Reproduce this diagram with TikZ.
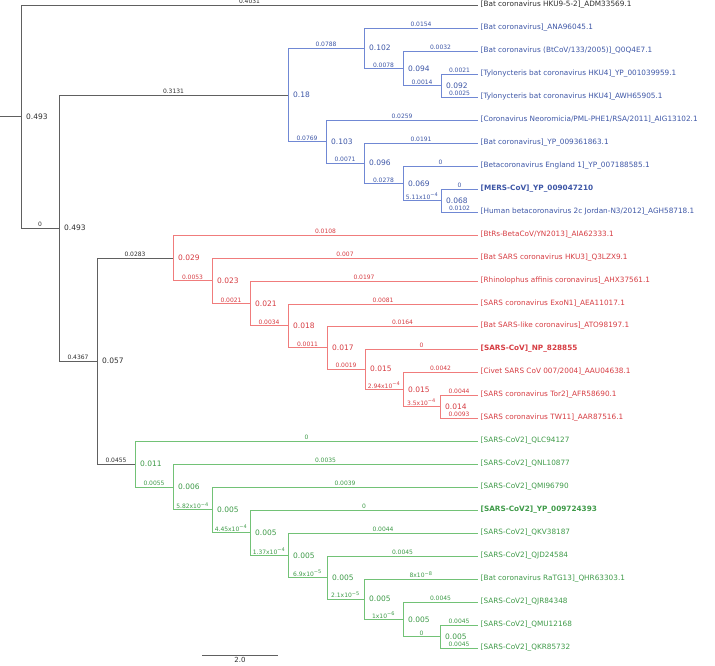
\documentclass[tikz,border=0pt]{standalone}
\usepackage{fontspec}
\setmainfont{DejaVu Sans}
\definecolor{treeline}{HTML}{606060}
\definecolor{treetext}{HTML}{2E2E2E}
\definecolor{mersline}{HTML}{7088D4}
\definecolor{merstext}{HTML}{3D56A6}
\definecolor{sarsline}{HTML}{F07C7C}
\definecolor{sarstext}{HTML}{D63C42}
\definecolor{covline}{HTML}{72C276}
\definecolor{covtext}{HTML}{3E9A48}
\tikzset{
    edge/.style={line width=0.8pt},
    leaf/.style={anchor=west, inner sep=2.5pt, font=\fontsize{7.3}{8}\selectfont},
    val/.style={anchor=west, inner sep=0pt, xshift=5pt, font=\fontsize{7.5}{9}\selectfont},
    blen/.style={anchor=south, inner sep=0.8pt, pos=0.75, font=\fontsize{6}{7}\selectfont},
}

\begin{document}
\begin{tikzpicture}[x=1pt, y=-1pt]
    \useasboundingbox (0,0) rectangle (715,665);
    % leaves
    \node[leaf, text=treetext] (t1) at (478,5) {[Bat coronavirus HKU9-5-2]\_ADM33569.1};
    \node[leaf, text=merstext] (t2) at (478,28) {[Bat coronavirus]\_ANA96045.1};
    \node[leaf, text=merstext] (t3) at (478,51) {[Bat coronavirus (BtCoV/133/2005)]\_Q0Q4E7.1};
    \node[leaf, text=merstext] (t4) at (478,74) {[Tylonycteris bat coronavirus HKU4]\_YP\_001039959.1};
    \node[leaf, text=merstext] (t5) at (478,97) {[Tylonycteris bat coronavirus HKU4]\_AWH65905.1};
    \node[leaf, text=merstext] (t6) at (478,120) {[Coronavirus Neoromicia/PML-PHE1/RSA/2011]\_AIG13102.1};
    \node[leaf, text=merstext] (t7) at (478,143) {[Bat coronavirus]\_YP\_009361863.1};
    \node[leaf, text=merstext] (t8) at (478,166) {[Betacoronavirus England 1]\_YP\_007188585.1};
    \node[leaf, text=merstext, font=\fontsize{7.3}{8}\selectfont\bfseries] (t9) at (478,189) {[MERS-CoV]\_YP\_009047210};
    \node[leaf, text=merstext] (t10) at (478,212) {[Human betacoronavirus 2c Jordan-N3/2012]\_AGH58718.1};
    \node[leaf, text=sarstext] (t11) at (478,235) {[BtRs-BetaCoV/YN2013]\_AIA62333.1};
    \node[leaf, text=sarstext] (t12) at (478,258) {[Bat SARS coronavirus HKU3]\_Q3LZX9.1};
    \node[leaf, text=sarstext] (t13) at (478,281) {[Rhinolophus affinis coronavirus]\_AHX37561.1};
    \node[leaf, text=sarstext] (t14) at (478,304) {[SARS coronavirus ExoN1]\_AEA11017.1};
    \node[leaf, text=sarstext] (t15) at (478,326) {[Bat SARS-like coronavirus]\_ATO98197.1};
    \node[leaf, text=sarstext, font=\fontsize{7.3}{8}\selectfont\bfseries] (t16) at (478,349) {[SARS-CoV]\_NP\_828855};
    \node[leaf, text=sarstext] (t17) at (478,372) {[Civet SARS CoV 007/2004]\_AAU04638.1};
    \node[leaf, text=sarstext] (t18) at (478,395) {[SARS coronavirus Tor2]\_AFR58690.1};
    \node[leaf, text=sarstext] (t19) at (478,418) {[SARS coronavirus TW11]\_AAR87516.1};
    \node[leaf, text=covtext] (t20) at (478,441) {[SARS-CoV2]\_QLC94127};
    \node[leaf, text=covtext] (t21) at (478,464) {[SARS-CoV2]\_QNL10877};
    \node[leaf, text=covtext] (t22) at (478,487) {[SARS-CoV2]\_QMI96790};
    \node[leaf, text=covtext, font=\fontsize{7.3}{8}\selectfont\bfseries] (t23) at (478,510) {[SARS-CoV2]\_YP\_009724393};
    \node[leaf, text=covtext] (t24) at (478,533) {[SARS-CoV2]\_QKV38187};
    \node[leaf, text=covtext] (t25) at (478,556) {[SARS-CoV2]\_QJD24584};
    \node[leaf, text=covtext] (t26) at (478,579) {[Bat coronavirus RaTG13]\_QHR63303.1};
    \node[leaf, text=covtext] (t27) at (478,602) {[SARS-CoV2]\_QJR84348};
    \node[leaf, text=covtext] (t28) at (478,625) {[SARS-CoV2]\_QMU12168};
    \node[leaf, text=covtext] (t29) at (478,648) {[SARS-CoV2]\_QKR85732};

    % inner nodes
    \coordinate (stub) at (0,116.5);
    \coordinate (root) at (21,116.5);
    \coordinate (top) at (59,227.9);
    \coordinate (grp) at (97,361);
    \coordinate (mers1) at (288,94.9);
    \coordinate (mers2) at (364,48.1);
    \coordinate (mers3) at (403,68.3);
    \coordinate (mers4) at (441,85.5);
    \coordinate (mers5) at (326,141.6);
    \coordinate (mers6) at (364,163.1);
    \coordinate (mers7) at (403,183.3);
    \coordinate (mers8) at (441,200.5);
    \coordinate (sars1) at (173,257.9);
    \coordinate (sars2) at (212,280.7);
    \coordinate (sars3) at (250,303.4);
    \coordinate (sars4) at (288,325.8);
    \coordinate (sars5) at (327,347.6);
    \coordinate (sars6) at (365,369.1);
    \coordinate (sars7) at (403,389.3);
    \coordinate (sars8) at (440,406.5);
    \coordinate (cov1) at (135,464);
    \coordinate (cov2) at (173,486.9);
    \coordinate (cov3) at (212,509.8);
    \coordinate (cov4) at (250,532.6);
    \coordinate (cov5) at (288,555.3);
    \coordinate (cov6) at (327,577.6);
    \coordinate (cov7) at (364,599.1);
    \coordinate (cov8) at (403,619.3);
    \coordinate (cov9) at (440,636.5);

    % backbone
    \draw[edge, treeline] (stub) -- (root);
    \draw[edge, treeline] (root) |- node[blen, text=treetext] {0.4031} (t1.west);
    \draw[edge, treeline] (root) |- node[blen, text=treetext] {0} (top);
    \draw[edge, treeline] (top) |- node[blen, text=treetext] {0.3131} (mers1);
    \draw[edge, treeline] (top) |- node[blen, text=treetext] {0.4367} (grp);
    \draw[edge, treeline] (grp) |- node[blen, text=treetext] {0.0283} (sars1);
    \draw[edge, treeline] (grp) |- node[blen, text=treetext] {0.0455} (cov1);
    \node[val, text=treetext] (vroot) at (root) {0.493};
    \node[val, text=treetext] (vtop) at (top) {0.493};
    \node[val, text=treetext] (vgrp) at (grp) {0.057};

    % mers clade
    \begin{scope}[mersline]
    \draw[edge] (mers1) |- node[blen, text=merstext] {0.0788} (mers2);
    \draw[edge] (mers1) |- node[blen, text=merstext] {0.0769} (mers5);
    \draw[edge] (mers2) |- node[blen, text=merstext] {0.0154} (t2.west);
    \draw[edge] (mers2) |- node[blen, text=merstext] {0.0078} (mers3);
    \draw[edge] (mers3) |- node[blen, text=merstext] {0.0032} (t3.west);
    \draw[edge] (mers3) |- node[blen, text=merstext] {0.0014} (mers4);
    \draw[edge] (mers4) |- node[blen, text=merstext] {0.0021} (t4.west);
    \draw[edge] (mers4) |- node[blen, text=merstext] {0.0025} (t5.west);
    \draw[edge] (mers5) |- node[blen, text=merstext] {0.0259} (t6.west);
    \draw[edge] (mers5) |- node[blen, text=merstext] {0.0071} (mers6);
    \draw[edge] (mers6) |- node[blen, text=merstext] {0.0191} (t7.west);
    \draw[edge] (mers6) |- node[blen, text=merstext] {0.0278} (mers7);
    \draw[edge] (mers7) |- node[blen, text=merstext] {0} (t8.west);
    \draw[edge] (mers7) |- node[blen, text=merstext] {5.11x10\textsuperscript{−4}} (mers8);
    \draw[edge] (mers8) |- node[blen, text=merstext] {0} (t9.west);
    \draw[edge] (mers8) |- node[blen, text=merstext] {0.0102} (t10.west);
    \end{scope}
    \node[val, text=merstext] (vm1) at (mers1) {0.18};
    \node[val, text=merstext] (vm2) at (mers2) {0.102};
    \node[val, text=merstext] (vm3) at (mers3) {0.094};
    \node[val, text=merstext] (vm4) at (mers4) {0.092};
    \node[val, text=merstext] (vm5) at (mers5) {0.103};
    \node[val, text=merstext] (vm6) at (mers6) {0.096};
    \node[val, text=merstext] (vm7) at (mers7) {0.069};
    \node[val, text=merstext] (vm8) at (mers8) {0.068};

    % sars clade
    \begin{scope}[sarsline]
    \draw[edge] (sars1) |- node[blen, text=sarstext] {0.0108} (t11.west);
    \draw[edge] (sars1) |- node[blen, text=sarstext] {0.0053} (sars2);
    \draw[edge] (sars2) |- node[blen, text=sarstext] {0.007} (t12.west);
    \draw[edge] (sars2) |- node[blen, text=sarstext] {0.0021} (sars3);
    \draw[edge] (sars3) |- node[blen, text=sarstext] {0.0197} (t13.west);
    \draw[edge] (sars3) |- node[blen, text=sarstext] {0.0034} (sars4);
    \draw[edge] (sars4) |- node[blen, text=sarstext] {0.0081} (t14.west);
    \draw[edge] (sars4) |- node[blen, text=sarstext] {0.0011} (sars5);
    \draw[edge] (sars5) |- node[blen, text=sarstext] {0.0164} (t15.west);
    \draw[edge] (sars5) |- node[blen, text=sarstext] {0.0019} (sars6);
    \draw[edge] (sars6) |- node[blen, text=sarstext] {0} (t16.west);
    \draw[edge] (sars6) |- node[blen, text=sarstext] {2.94x10\textsuperscript{−4}} (sars7);
    \draw[edge] (sars7) |- node[blen, text=sarstext] {0.0042} (t17.west);
    \draw[edge] (sars7) |- node[blen, text=sarstext] {3.5x10\textsuperscript{−4}} (sars8);
    \draw[edge] (sars8) |- node[blen, text=sarstext] {0.0044} (t18.west);
    \draw[edge] (sars8) |- node[blen, text=sarstext] {0.0093} (t19.west);
    \end{scope}
    \node[val, text=sarstext] (vs1) at (sars1) {0.029};
    \node[val, text=sarstext] (vs2) at (sars2) {0.023};
    \node[val, text=sarstext] (vs3) at (sars3) {0.021};
    \node[val, text=sarstext] (vs4) at (sars4) {0.018};
    \node[val, text=sarstext] (vs5) at (sars5) {0.017};
    \node[val, text=sarstext] (vs6) at (sars6) {0.015};
    \node[val, text=sarstext] (vs7) at (sars7) {0.015};
    \node[val, text=sarstext] (vs8) at (sars8) {0.014};

    % sars-cov2 clade
    \begin{scope}[covline]
    \draw[edge] (cov1) |- node[blen, text=covtext] {0} (t20.west);
    \draw[edge] (cov1) |- node[blen, text=covtext] {0.0055} (cov2);
    \draw[edge] (cov2) |- node[blen, text=covtext] {0.0035} (t21.west);
    \draw[edge] (cov2) |- node[blen, text=covtext] {5.82x10\textsuperscript{−4}} (cov3);
    \draw[edge] (cov3) |- node[blen, text=covtext] {0.0039} (t22.west);
    \draw[edge] (cov3) |- node[blen, text=covtext] {4.45x10\textsuperscript{−4}} (cov4);
    \draw[edge] (cov4) |- node[blen, text=covtext] {0} (t23.west);
    \draw[edge] (cov4) |- node[blen, text=covtext] {1.37x10\textsuperscript{−4}} (cov5);
    \draw[edge] (cov5) |- node[blen, text=covtext] {0.0044} (t24.west);
    \draw[edge] (cov5) |- node[blen, text=covtext] {6.9x10\textsuperscript{−5}} (cov6);
    \draw[edge] (cov6) |- node[blen, text=covtext] {0.0045} (t25.west);
    \draw[edge] (cov6) |- node[blen, text=covtext] {2.1x10\textsuperscript{−5}} (cov7);
    \draw[edge] (cov7) |- node[blen, text=covtext] {8x10\textsuperscript{−8}} (t26.west);
    \draw[edge] (cov7) |- node[blen, text=covtext] {1x10\textsuperscript{−6}} (cov8);
    \draw[edge] (cov8) |- node[blen, text=covtext] {0.0045} (t27.west);
    \draw[edge] (cov8) |- node[blen, text=covtext] {0} (cov9);
    \draw[edge] (cov9) |- node[blen, text=covtext] {0.0045} (t28.west);
    \draw[edge] (cov9) |- node[blen, text=covtext] {0.0045} (t29.west);
    \end{scope}
    \node[val, text=covtext] (vc1) at (cov1) {0.011};
    \node[val, text=covtext] (vc2) at (cov2) {0.006};
    \node[val, text=covtext] (vc3) at (cov3) {0.005};
    \node[val, text=covtext] (vc4) at (cov4) {0.005};
    \node[val, text=covtext] (vc5) at (cov5) {0.005};
    \node[val, text=covtext] (vc6) at (cov6) {0.005};
    \node[val, text=covtext] (vc7) at (cov7) {0.005};
    \node[val, text=covtext] (vc8) at (cov8) {0.005};
    \node[val, text=covtext] (vc9) at (cov9) {0.005};

    % scale bar
    \coordinate (bar1) at (202,655);
    \coordinate (bar2) at (278,655);
    \draw[edge, treeline] (bar1) -- node[below, inner sep=1.5pt, text=treetext, font=\fontsize{7}{8}\selectfont] (barlab) {2.0} (bar2);
\end{tikzpicture}
\end{document}
